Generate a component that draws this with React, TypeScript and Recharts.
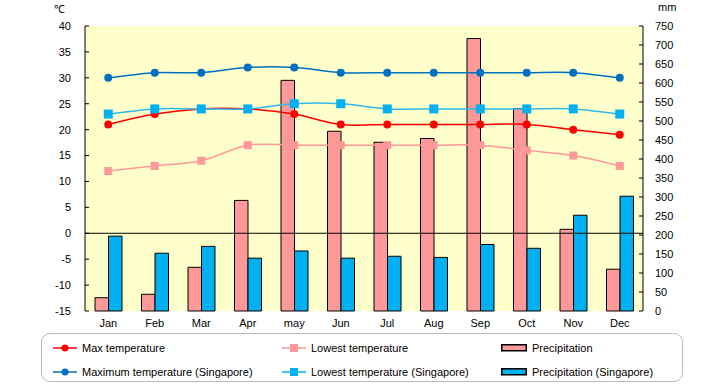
import React from 'react';
import { ComposedChart, Bar, Line, XAxis, YAxis, CartesianGrid, ReferenceLine, Legend } from 'recharts';

const months = ['Jan', 'Feb', 'Mar', 'Apr', 'may', 'Jun', 'Jul', 'Aug', 'Sep', 'Oct', 'Nov', 'Dec'];
const maxTemp = [21, 23, 24, 24, 23, 21, 21, 21, 21, 21, 20, 19];
const lowTemp = [12, 13, 14, 17, 17, 17, 17, 17, 17, 16, 15, 13];
const precip = [35, 44, 115, 291, 607, 473, 444, 454, 717, 533, 215, 110];
const sgMax = [30, 31, 31, 32, 32, 31, 31, 31, 31, 31, 31, 30];
const sgLow = [23, 24, 24, 24, 25, 25, 24, 24, 24, 24, 24, 23];
const sgPrecip = [197, 152, 170, 139, 158, 139, 144, 141, 175, 165, 252, 302];
const leftTicks = [-15, -10, -5, 0, 5, 10, 15, 20, 25, 30, 35, 40];
const rightTicks = [0, 50, 100, 150, 200, 250, 300, 350, 400, 450, 500, 550, 600, 650, 700, 750];

const data = months.map((m, i) => ({
  month: m,
  maxTemp: maxTemp[i],
  lowTemp: lowTemp[i],
  precip: precip[i],
  sgMax: sgMax[i],
  sgLow: sgLow[i],
  sgPrecip: sgPrecip[i],
}));

const FONT = '"Liberation Sans", Arial, sans-serif';

function smoothCurve(context: any) {
  let pts: [number, number][] = [];
  return {
    areaStart() {},
    areaEnd() {},
    lineStart() {
      pts = [];
    },
    point(x: number, y: number) {
      pts.push([+x, +y]);
    },
    lineEnd() {
      const n = pts.length;
      if (!n) return;
      context.moveTo(pts[0][0], pts[0][1]);
      for (let i = 0; i < n - 1; i++) {
        const p0 = pts[i - 1] || pts[i];
        const p1 = pts[i];
        const p2 = pts[i + 1];
        const p3 = pts[i + 2] || pts[i + 1];
        context.bezierCurveTo(
          p1[0] + (p2[0] - p0[0]) / 6,
          p1[1] + (p2[1] - p0[1]) / 6,
          p2[0] - (p3[0] - p1[0]) / 6,
          p2[1] - (p3[1] - p1[1]) / 6,
          p2[0],
          p2[1]
        );
      }
    },
  };
}

const circleDot = (color: string, r: number) => (props: any) => {
  const { cx, cy, index } = props;
  if (cx == null || cy == null) return <g key={`c${index}`} />;
  return <circle key={`c${index}`} cx={cx} cy={cy} r={r} fill={color} stroke="none" />;
};

const squareDot = (color: string, s: number) => (props: any) => {
  const { cx, cy, index } = props;
  if (cx == null || cy == null) return <g key={`s${index}`} />;
  return <rect key={`s${index}`} x={cx - s / 2} y={cy - s / 2} width={s} height={s} fill={color} stroke="none" />;
};

const LineIcon = ({ color, marker }: { color: string; marker: 'circle' | 'square' }) => (
  <svg width={24} height={12} style={{ display: 'block' }}>
    <line x1={0} y1={6} x2={24} y2={6} stroke={color} strokeWidth={1.5} />
    {marker === 'circle' ? (
      <circle cx={12} cy={6} r={3.5} fill={color} />
    ) : (
      <rect x={8} y={2} width={8} height={8} fill={color} />
    )}
  </svg>
);

const BarIcon = ({ color }: { color: string }) => (
  <svg width={26} height={12} style={{ display: 'block' }}>
    <rect x={0.75} y={2.75} width={24.5} height={6} fill={color} stroke="#000" strokeWidth={1.5} />
  </svg>
);

const legendItems = [
  { label: 'Max temperature', icon: <LineIcon color="#FF0000" marker="circle" />, x: 11, y: 14 },
  { label: 'Lowest temperature', icon: <LineIcon color="#FF9999" marker="square" />, x: 240, y: 14 },
  { label: 'Precipitation', icon: <BarIcon color="#FF9999" />, x: 459, y: 14 },
  { label: 'Maximum temperature (Singapore)', icon: <LineIcon color="#0070C0" marker="circle" />, x: 11, y: 38 },
  { label: 'Lowest temperature (Singapore)', icon: <LineIcon color="#00B0F0" marker="square" />, x: 240, y: 38 },
  { label: 'Precipitation (Singapore)', icon: <BarIcon color="#00B0F0" />, x: 459, y: 38 },
];

const renderLegend = () => (
  <div
    style={{
      position: 'relative',
      width: 642,
      height: 49,
      boxSizing: 'border-box',
      border: '1.5px solid #BBBBBB',
      borderRadius: 9,
      background: '#fff',
      fontFamily: FONT,
      fontSize: 11,
      color: '#000',
    }}
  >
    {legendItems.map((it) => (
      <div
        key={it.label}
        style={{
          position: 'absolute',
          left: it.x,
          top: it.y - 8,
          height: 16,
          display: 'flex',
          alignItems: 'center',
          whiteSpace: 'nowrap',
        }}
      >
        {it.icon}
        <span style={{ marginLeft: 5 }}>{it.label}</span>
      </div>
    ))}
  </div>
);

const tickStyle = { fontFamily: FONT, fontSize: 11, fill: '#000' };

export default function App() {
  return (
    <div style={{ position: 'absolute', left: 0, top: 0, width: 720, height: 385, background: '#fff' }}>
      <div style={{ position: 'absolute', left: 54, top: 1, fontFamily: FONT, fontSize: 11 }}>℃</div>
      <div style={{ position: 'absolute', left: 658, top: 1, fontFamily: FONT, fontSize: 11 }}>mm</div>
      <ComposedChart
        width={720}
        height={385}
        data={data}
        margin={{ top: 26, right: 0, bottom: 3, left: 0 }}
        barGap={0}
      >
        <CartesianGrid fill="#FFFFCC" stroke="none" horizontal={false} vertical={false} yAxisId="left" />
        <XAxis
          dataKey="month"
          height={22}
          tickLine={false}
          axisLine={false}
          tick={tickStyle}
          tickMargin={2}
          interval={0}
        />
        <YAxis
          yAxisId="left"
          orientation="left"
          width={85}
          domain={[-15, 40]}
          ticks={leftTicks}
          interval={0}
          tick={tickStyle}
          tickSize={-4}
          tickMargin={18}
          axisLine={{ stroke: '#000' }}
          tickLine={{ stroke: '#000' }}
        />
        <YAxis
          yAxisId="right"
          orientation="right"
          width={77}
          domain={[0, 750]}
          ticks={rightTicks}
          interval={0}
          tick={{ ...tickStyle, textAnchor: 'start' }}
          tickSize={-4}
          tickMargin={16}
          axisLine={{ stroke: '#000' }}
          tickLine={{ stroke: '#000' }}
        />
        <Legend
          verticalAlign="bottom"
          content={renderLegend}
          wrapperStyle={{ left: 41, bottom: 3, width: 642, height: 49 }}
        />
        <ReferenceLine yAxisId="left" y={0} stroke="#000" strokeWidth={1} />
        <Bar yAxisId="right" dataKey="precip" fill="#FF9999" stroke="#000" strokeWidth={1} barSize={13.5} isAnimationActive={false} />
        <Bar yAxisId="right" dataKey="sgPrecip" fill="#00B0F0" stroke="#000" strokeWidth={1} barSize={13.5} isAnimationActive={false} />
        <Line yAxisId="left" dataKey="maxTemp" type={smoothCurve as any} stroke="#FF0000" strokeWidth={1.5} dot={circleDot('#FF0000', 4)} activeDot={false} isAnimationActive={false} />
        <Line yAxisId="left" dataKey="lowTemp" type={smoothCurve as any} stroke="#FF9999" strokeWidth={1.5} dot={squareDot('#FF9999', 8)} activeDot={false} isAnimationActive={false} />
        <Line yAxisId="left" dataKey="sgMax" type={smoothCurve as any} stroke="#0070C0" strokeWidth={1.5} dot={circleDot('#0070C0', 4)} activeDot={false} isAnimationActive={false} />
        <Line yAxisId="left" dataKey="sgLow" type={smoothCurve as any} stroke="#30B8E8" strokeWidth={1.5} dot={squareDot('#00B0F0', 9)} activeDot={false} isAnimationActive={false} />
      </ComposedChart>
    </div>
  );
}
